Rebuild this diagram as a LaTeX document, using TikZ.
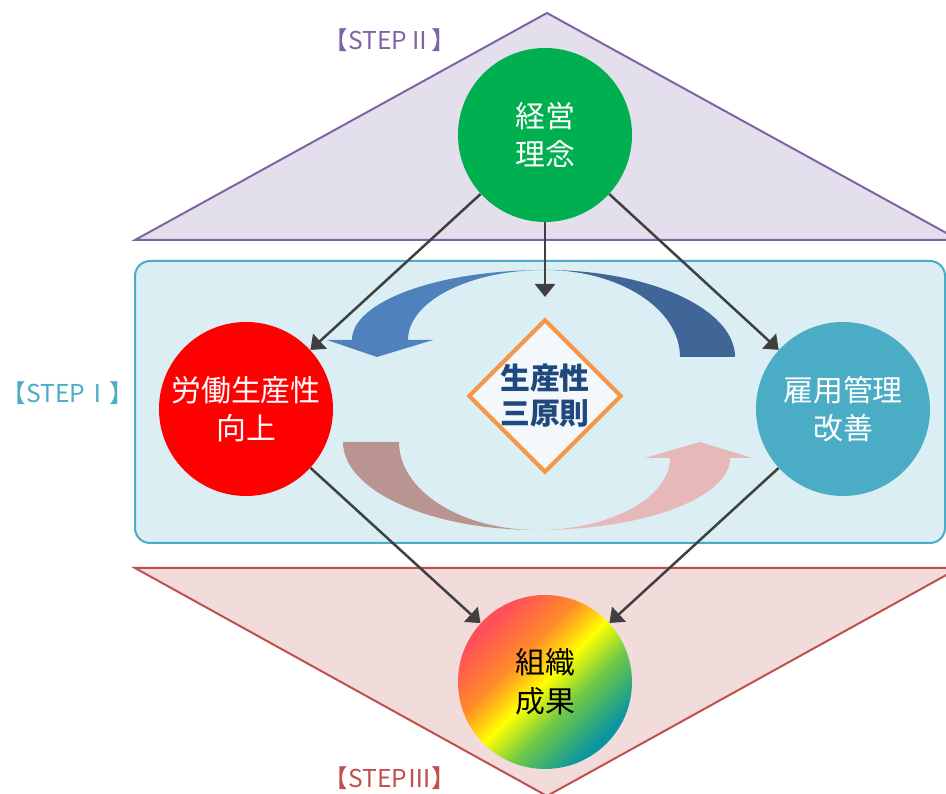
\documentclass[tikz,border=0pt]{standalone}
\usepackage{fontspec}
\setmainfont{Noto Sans CJK JP}
\usetikzlibrary{shapes.geometric,arrows.meta}
\definecolor{stepone}{RGB}{75,172,198}
\definecolor{steptwo}{RGB}{128,100,162}
\definecolor{stepthree}{RGB}{192,80,77}
\definecolor{onefill}{RGB}{218,238,243}
\definecolor{twofill}{RGB}{228,223,236}
\definecolor{threefill}{RGB}{242,220,219}
\definecolor{rinen}{RGB}{0,176,80}
\definecolor{kojo}{RGB}{255,0,0}
\definecolor{bluefront}{RGB}{79,129,189}
\definecolor{blueback}{RGB}{64,102,152}
\definecolor{pinkback}{RGB}{185,148,144}
\definecolor{pinkfront}{RGB}{230,184,183}
\definecolor{gensoku}{RGB}{31,73,125}
\definecolor{diafill}{RGB}{243,248,252}
\definecolor{diaedge}{RGB}{247,150,70}
\definecolor{linkgray}{RGB}{64,64,64}
\definecolor{rbred}{RGB}{255,80,90}
\definecolor{rborange}{RGB}{255,140,40}
\definecolor{rbyellow}{RGB}{255,255,0}
\definecolor{rbgreen}{RGB}{110,200,70}
\definecolor{rbteal}{RGB}{10,150,160}
\pgfdeclareverticalshading{seika}{100bp}{color(0bp)=(rbteal); color(27bp)=(rbteal); color(40bp)=(rbgreen); color(50bp)=(rbyellow); color(60bp)=(rborange); color(73bp)=(rbred); color(100bp)=(rbred)}
\begin{document}
\begin{tikzpicture}[x=0.2mm,y=0.2mm,
  ball/.style={circle,minimum size=34.8mm,inner sep=0pt,text=white,align=center,font=\fontsize{17pt}{22pt}\selectfont},
  link/.style={draw=linkgray,line width=0.5mm,-{Triangle[length=2.6mm,width=4mm]}},
  steplabel/.style={font=\fontsize{14pt}{16pt}\selectfont}]
\useasboundingbox (0,0) rectangle (946,794);
\filldraw[fill=twofill,draw=steptwo,line width=0.4mm] (135,554) -- (547,781) -- (959,554) -- cycle;
\filldraw[fill=threefill,draw=stepthree,line width=0.4mm] (135,226) -- (547,-2) -- (959,226) -- cycle;
\filldraw[fill=onefill,draw=stepone,line width=0.4mm,rounded corners=3mm] (135,251) rectangle (945,533);
\fill[blueback] (545,524) arc[start angle=90,end angle=0,x radius=190,y radius=87] -- (680,437) arc[start angle=0,end angle=90,x radius=135,y radius=87] -- cycle;
\fill[bluefront] (352,454) arc[start angle=180,end angle=90,x radius=193,y radius=70] arc[start angle=90,end angle=180,x radius=137,y radius=70] -- cycle;
\fill[bluefront] (327,454) -- (433,454) -- (377,437) -- cycle;
\fill[pinkfront] (537,264) arc[start angle=270,end angle=360,x radius=193,y radius=72] -- (670,336) arc[start angle=0,end angle=-90,x radius=133,y radius=72] -- cycle;
\fill[pinkfront] (645,336) -- (752,336) -- (700,352) -- cycle;
\fill[pinkback] (343,352) arc[start angle=180,end angle=270,x radius=194,y radius=88] arc[start angle=270,end angle=180,x radius=138,y radius=88] -- cycle;
\node[diamond,draw=diaedge,fill=diafill,line width=0.8mm,minimum size=30mm,inner sep=0pt,text=gensoku,align=center,font=\bfseries\fontsize{17pt}{20pt}\selectfont] (gensoku) at (545,398) {生産性\\三原則};
\node[ball,fill=rinen] (rinen) at (545,659) {経営\\理念};
\node[ball,fill=kojo] (kojo) at (246,385) {労働生産性\\向上};
\node[ball,fill=stepone] (kaizen) at (843,385) {雇用管理\\改善};
\node[ball,shade,shading=seika,shading angle=45,text=black] (seika) at (545,112) {組織\\成果};
\coordinate (mid) at (545,497);
\draw[link] (rinen) -- (kojo);
\draw[link] (rinen) -- (mid);
\draw[link] (rinen) -- (kaizen);
\draw[link] (kojo) -- (seika);
\draw[link] (kaizen) -- (seika);
\node[steplabel,text=steptwo] (step2) at (390,754) {【STEPⅡ】};
\node[steplabel,text=stepone] (step1) at (68,401) {【STEPⅠ】};
\node[steplabel,text=stepthree] (step3) at (390,16) {【STEPⅢ】};
\end{tikzpicture}
\end{document}
